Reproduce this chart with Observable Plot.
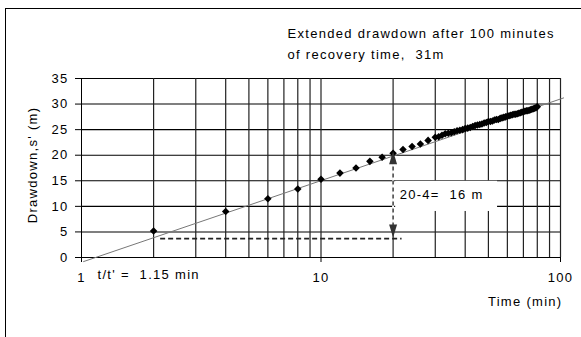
<!DOCTYPE html>
<html>
<head>
<meta charset="utf-8">
<script src="https://cdn.jsdelivr.net/npm/d3@7"></script>
<script src="https://cdn.jsdelivr.net/npm/@observablehq/plot@0.6"></script>
<style>
  html, body { margin: 0; padding: 0; background: #fff; overflow: hidden; }
  #wrap { position: relative; width: 581px; height: 337px; }
  #border { position: absolute; left: 5px; top: 8px; width: 700px; height: 500px;
            border-left: 1px solid #000; border-top: 1px solid #000; }
  #chart { position: absolute; left: 0; top: 0; }
</style>
</head>
<body>
<div id="wrap"><div id="border"></div><div id="chart"></div></div>
<script>
// Observed data: time (min) vs residual drawdown s' (m)
const timeMin = [2, 4, 6, 8, 10, 12, 14, 16, 18, 20, 22, 24, 26, 28,
  30, 31, 32, 33, 34, 35, 36, 37, 38, 39, 40, 41, 42, 43, 44, 45, 46, 47, 48, 49,
  50, 51, 52, 53, 54, 55, 56, 57, 58, 59, 60, 61, 62, 63, 64, 65, 66, 67, 68, 69,
  70, 71, 72, 73, 74, 75, 76, 77, 78, 79, 80];
const drawdown = [5.2, 9.0, 11.5, 13.4, 15.3, 16.5, 17.5, 18.8, 19.6, 20.4, 21.1, 21.7, 22.2, 22.9,
  23.5, 23.6, 23.9, 24.2, 24.3, 24.4, 24.6, 24.8, 24.9, 25.0, 25.2, 25.3, 25.4, 25.6, 25.8, 25.9, 26.0, 26.1, 26.3, 26.4,
  26.6, 26.6, 26.7, 26.9, 27.0, 27.0, 27.2, 27.3, 27.4, 27.5, 27.6, 27.7, 27.8, 27.9, 28.0, 28.0, 28.1, 28.2, 28.3, 28.4,
  28.5, 28.6, 28.7, 28.7, 28.8, 28.9, 29.0, 29.1, 29.2, 29.3, 29.5];

// Fitted straight line (semi-log)
const fitT = [1.02, 103];
const fitS = [-0.8, 31.2];

// Grid / tick values
const xGrid = [2, 3, 4, 5, 6, 7, 8, 9, 10, 20, 30, 40, 50, 60, 70, 80, 90, 100];
const xTicks = [1, 10, 100];
const yTicks = [0, 5, 10, 15, 20, 25, 30, 35];

// Annotations
const dashLevel = 3.7;          // s at t = 2 on the fitted line
const dashT = [2.14, 21.8];
const arrowT = 20;
const arrowS = [4.6, 19.0];     // dashed span
const arrowUpS = 19.4, arrowDownS = 5.3;
const boxT = [20.5, 54.6], boxS = [9.0, 14.9];
const deltaLabel = "20-4=  16 m";
const deltaPos = [21.3, 12.3];
const t0Label = "t/t' =  1.15 min";
const t0Pos = [1.166, -3.4];
const title1 = "Extended drawdown after 100 minutes";
const title2 = "of recovery time,  31m";
const yLabel = "Drawdown,s' (m)";
const xLabel = "Time (min)";

const pts = timeMin.map((t, i) => ({t, s: drawdown[i]}));
const fit = fitT.map((t, i) => ({t, s: fitS[i]}));

const tri = {draw(c) { c.moveTo(0, -7); c.lineTo(4, 6); c.lineTo(-4, 6); c.closePath(); }};

const chart = Plot.plot({
  width: 581, height: 337,
  marginLeft: 81, marginRight: 21, marginTop: 78, marginBottom: 80,
  style: "font-family: 'Liberation Sans', Arial, sans-serif; font-size: 13px; letter-spacing: 1.3px; background: transparent; overflow: visible; color: #000;",
  x: {type: "log", domain: [1, 100]},
  y: {domain: [0, 35]},
  marks: [
    Plot.ruleY(yTicks, {x1: 1, x2: 100, stroke: "#000", strokeWidth: 1.1}),
    Plot.ruleX(xGrid, {y1: 0, y2: 35, stroke: "#222", strokeWidth: 1.2}),
    Plot.ruleX([1], {y1: 0, y2: 35, stroke: "#000"}),
    Plot.axisX(xTicks, {tickSize: 5, tickPadding: 10, tickFormat: d => String(d), label: null}),
    Plot.axisY(yTicks, {tickSize: 6, tickPadding: 7, label: null}),
    Plot.rect([0], {x1: () => boxT[0], x2: () => boxT[1], y1: () => boxS[0], y2: () => boxS[1], fill: "#fff"}),
    Plot.line(fit, {x: "t", y: "s", stroke: "#777", strokeWidth: 1, clip: false}),
    Plot.ruleY([dashLevel], {x1: dashT[0], x2: dashT[1], stroke: "#222", strokeWidth: 1.6, strokeDasharray: "5,3"}),
    Plot.ruleX([arrowT], {y1: arrowS[0], y2: arrowS[1], stroke: "#fff", strokeWidth: 2}),
    Plot.ruleX([arrowT], {y1: arrowS[0], y2: arrowS[1], stroke: "#333", strokeWidth: 1.4, strokeDasharray: "4,3"}),
    Plot.dot(pts, {x: "t", y: "s", symbol: "diamond2", r: 3.4, fill: "#000", stroke: "none"}),
    Plot.dot([0], {x: () => arrowT, y: () => arrowUpS, symbol: tri, fill: "#333", stroke: "none"}),
    Plot.dot([0], {x: () => arrowT, y: () => arrowDownS, symbol: tri, rotate: 180, fill: "#333", stroke: "none"}),
    Plot.text([deltaLabel], {x: () => deltaPos[0], y: () => deltaPos[1], textAnchor: "start", fill: "#000"}),
    Plot.text([t0Label], {x: () => t0Pos[0], y: () => t0Pos[1], textAnchor: "start", fill: "#000", clip: false}),
    Plot.text([title1], {frameAnchor: "top-left", dx: 206, dy: -50, textAnchor: "start", fill: "#000"}),
    Plot.text([title2], {frameAnchor: "top-left", dx: 206, dy: -29, textAnchor: "start", fill: "#000"}),
    Plot.text([yLabel], {frameAnchor: "left", dx: -49, dy: -3, rotate: -90, textAnchor: "middle", fill: "#000"}),
    Plot.text([xLabel], {frameAnchor: "bottom-right", dx: 2, dy: 48, textAnchor: "end", fill: "#000"})
  ]
});
document.getElementById("chart").appendChild(chart);
</script>
</body>
</html>
